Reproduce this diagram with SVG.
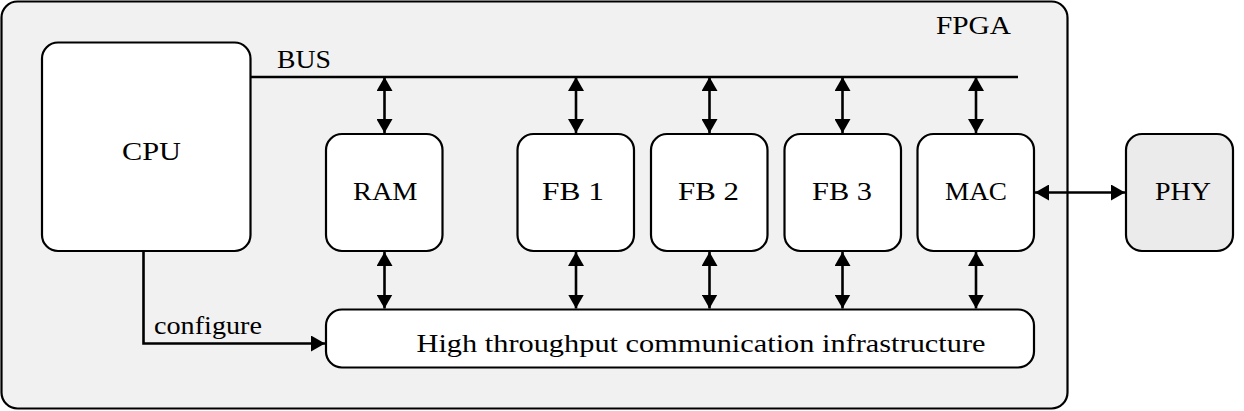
<svg xmlns="http://www.w3.org/2000/svg" width="1244" height="411" viewBox="0 0 1244 411">
<style>
.box{fill:#ffffff;stroke:#000;stroke-width:2.2}
.t{font-family:"Liberation Serif","DejaVu Serif",serif;font-size:26px;fill:#000}
.c{fill:none;stroke:#000;stroke-width:2.6}
</style>
<defs>
<marker id="ah" viewBox="0 0 14 16" refX="14" refY="8" markerWidth="14" markerHeight="16" markerUnits="userSpaceOnUse" orient="auto-start-reverse">
<path d="M0,0 L14,8 L0,16 Z" fill="#000"/>
</marker>
</defs>
<g id="fpga">
<rect x="1.5" y="1.5" width="1066" height="407" rx="16" fill="#f1f1f1" stroke="#000" stroke-width="2.2"/>
<text class="t" x="936" y="34" textLength="75" lengthAdjust="spacingAndGlyphs">FPGA</text>
</g>
<g id="cpu">
<rect class="box" x="42" y="42.5" width="208.5" height="208.5" rx="16"/>
<text class="t" x="122" y="160" textLength="59" lengthAdjust="spacingAndGlyphs">CPU</text>
</g>
<g id="ram">
<rect class="box" x="326" y="134" width="116.5" height="117" rx="16"/>
<text class="t" x="353" y="199.5" textLength="64.5" lengthAdjust="spacingAndGlyphs">RAM</text>
</g>
<g id="fb1">
<rect class="box" x="517.5" y="134" width="116.5" height="117" rx="16"/>
<text class="t" x="542" y="199.5" textLength="62" lengthAdjust="spacingAndGlyphs">FB 1</text>
</g>
<g id="fb2">
<rect class="box" x="651" y="134" width="116.5" height="117" rx="16"/>
<text class="t" x="678" y="199.5" textLength="61" lengthAdjust="spacingAndGlyphs">FB 2</text>
</g>
<g id="fb3">
<rect class="box" x="784.5" y="134" width="116.5" height="117" rx="16"/>
<text class="t" x="812" y="199.5" textLength="60" lengthAdjust="spacingAndGlyphs">FB 3</text>
</g>
<g id="mac">
<rect class="box" x="917.5" y="134" width="116.5" height="117" rx="16"/>
<text class="t" x="945" y="199.5" textLength="62" lengthAdjust="spacingAndGlyphs">MAC</text>
</g>
<g id="phy">
<rect x="1126" y="134" width="107" height="117" rx="16" fill="#ebebeb" stroke="#000" stroke-width="2.2"/>
<text class="t" x="1155" y="199.5" textLength="56" lengthAdjust="spacingAndGlyphs">PHY</text>
</g>
<g id="comm">
<rect class="box" x="326" y="309.5" width="708" height="58" rx="16"/>
<text class="t" x="416.5" y="352" textLength="569" lengthAdjust="spacingAndGlyphs">High throughput communication infrastructure</text>
</g>
<g id="connectors">
<line class="c" x1="250.5" y1="77" x2="1018" y2="77"/>
<text class="t" x="277" y="68" textLength="54" lengthAdjust="spacingAndGlyphs">BUS</text>
<line class="c" x1="384.5" y1="77" x2="384.5" y2="133" marker-start="url(#ah)" marker-end="url(#ah)"/>
<line class="c" x1="576" y1="77" x2="576" y2="133" marker-start="url(#ah)" marker-end="url(#ah)"/>
<line class="c" x1="709.5" y1="77" x2="709.5" y2="133" marker-start="url(#ah)" marker-end="url(#ah)"/>
<line class="c" x1="842.5" y1="77" x2="842.5" y2="133" marker-start="url(#ah)" marker-end="url(#ah)"/>
<line class="c" x1="976" y1="77" x2="976" y2="133" marker-start="url(#ah)" marker-end="url(#ah)"/>
<line class="c" x1="384.5" y1="252" x2="384.5" y2="308.5" marker-start="url(#ah)" marker-end="url(#ah)"/>
<line class="c" x1="576" y1="252" x2="576" y2="308.5" marker-start="url(#ah)" marker-end="url(#ah)"/>
<line class="c" x1="709.5" y1="252" x2="709.5" y2="308.5" marker-start="url(#ah)" marker-end="url(#ah)"/>
<line class="c" x1="842.5" y1="252" x2="842.5" y2="308.5" marker-start="url(#ah)" marker-end="url(#ah)"/>
<line class="c" x1="976" y1="252" x2="976" y2="308.5" marker-start="url(#ah)" marker-end="url(#ah)"/>
<line class="c" x1="1035" y1="192.5" x2="1125" y2="192.5" marker-start="url(#ah)" marker-end="url(#ah)"/>
<path class="c" d="M143.5,251 V343.5 H325" marker-end="url(#ah)"/>
<text class="t" x="154" y="334" textLength="108" lengthAdjust="spacingAndGlyphs">configure</text>
</g>
</svg>
